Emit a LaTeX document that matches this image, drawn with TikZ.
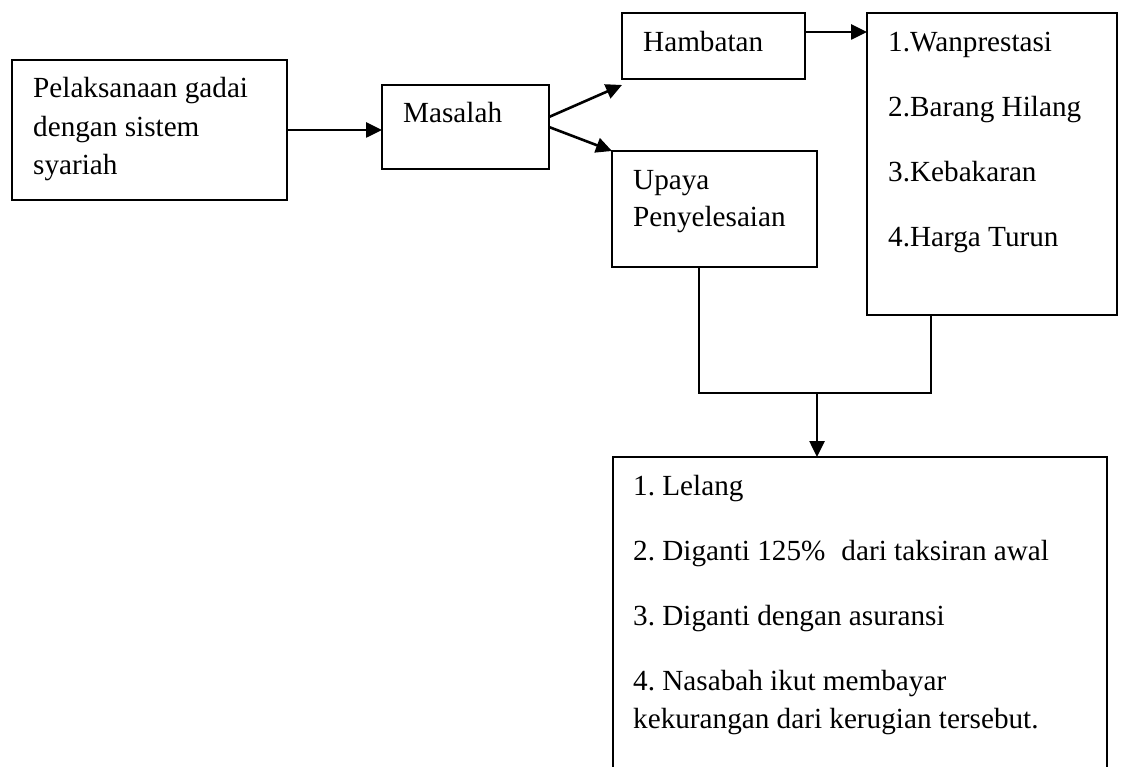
\documentclass[tikz,border=0pt]{standalone}
\usepackage{fontspec}
\setmainfont{Liberation Serif}
\frenchspacing
\usetikzlibrary{arrows.meta,calc}
\begin{document}
\begin{tikzpicture}[x=1pt,y=-1pt,
  box/.style={draw,line width=2pt,inner sep=0pt,outer sep=0pt},
  txt/.style={anchor=base west,inner sep=0pt,font=\fontsize{29.2}{35}\selectfont\frenchspacing},
  conn/.style={line width=2.6pt},
  arr/.style={conn,-{Triangle[length=16pt,width=15pt]}}]
\useasboundingbox (0,0) rectangle (1122,767);
\clip (0,0) rectangle (1122,767);
\fill[white] (0,0) rectangle (1122,767);
% boxes
\node[box,minimum width=275pt,minimum height=140pt] (A) at (149.5,130) {};
\node[box,minimum width=167pt,minimum height=84pt] (B) at (465.5,127) {};
\node[box,minimum width=183pt,minimum height=66pt] (C) at (713.5,46) {};
\node[box,minimum width=250pt,minimum height=302pt] (D) at (992,164) {};
\node[box,minimum width=205pt,minimum height=116pt] (E) at (714.5,209) {};
\node[box,minimum width=494pt,minimum height=343pt] (F) at (860,628.5) {};
% texts
\node[txt] (a1) at (33,98) {Pelaksanaan gadai};
\node[txt] (a2) at (33,137) {dengan sistem};
\node[txt] (a3) at (33,175) {syariah};
\node[txt] (b1) at (403,123) {Masalah};
\node[txt] (c1) at (643,52) {Hambatan};
\node[txt] (d1) at (888,52) {1.Wanprestasi};
\node[txt] (d2) at (888,117) {2.Barang Hilang};
\node[txt] (d3) at (888,182) {3.Kebakaran};
\node[txt] (d4) at (888,247) {4.Harga Turun};
\node[txt] (e1) at (633,190) {Upaya};
\node[txt] (e2) at (633,227) {Penyelesaian};
\node[txt] (f1) at (633,495) {1. Lelang};
\node[txt] (f2) at (633,560) {2. Diganti 125\%\hspace{0.3em} dari taksiran awal};
\node[txt] (f3) at (633,625) {3. Diganti dengan asuransi};
\node[txt] (f4) at (633,690) {4. Nasabah ikut membayar};
\node[txt] (f5) at (633,728) {kekurangan dari kerugian tersebut.};
% connectors
\draw[arr] (A.east) -- (A.east -| B.west);
\draw[arr] ($(B.north east)+(0,32)$) -- ($(C.south west)+(0,6)$);
\draw[arr] (B.east) -- (E.north west);
\coordinate (cd) at ($(C.north east)+(0,19)$);
\draw[arr] (cd) -- (cd -| D.west);
\coordinate (eb) at ($(E.south west)+(87,0)$);
\coordinate (db) at ($(D.south west)+(64,0)$);
\coordinate (j) at (817,393);
\draw[conn] (eb) |- (j) -| (db);
\draw[arr] (j) -- (j |- F.north);
\end{tikzpicture}
\end{document}
